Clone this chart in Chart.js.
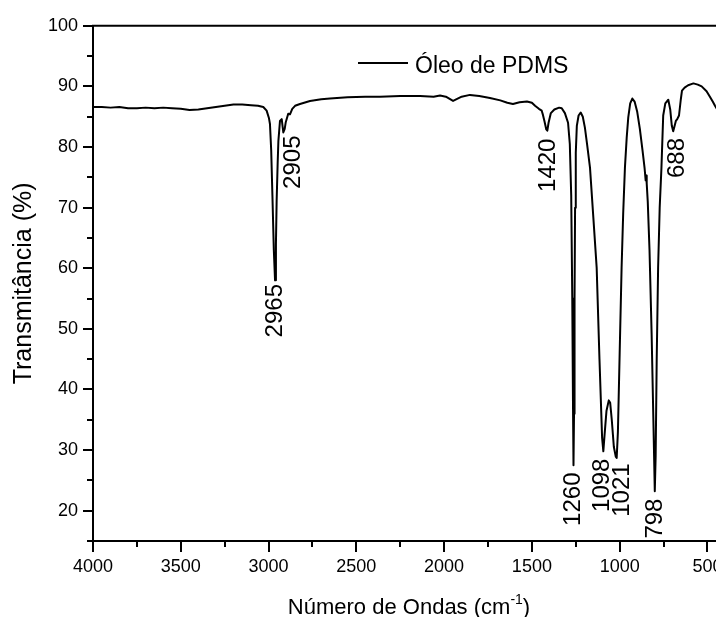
<!DOCTYPE html>
<html>
<head>
<meta charset="utf-8">
<script src="https://cdn.jsdelivr.net/npm/chart.js@4.4.0/dist/chart.umd.min.js"></script>
<style>
  html, body { margin: 0; padding: 0; background: #fff; overflow: hidden; }
  #wrap { width: 716px; height: 617px; overflow: hidden; }
</style>
</head>
<body>
<div id="wrap"><canvas id="ftir" width="726" height="617"></canvas></div>
<script>
// FTIR spectrum, PDMS oil (wavenumber in cm-1, transmittance in %)
const wavenumbers = [
  4000, 3950, 3900, 3850, 3800, 3750, 3700, 3650, 3600, 3550, 3500, 3450, 3400, 3350, 3300, 3250,
  3200, 3150, 3100, 3060, 3030, 3011, 2998, 2992, 2985, 2978, 2970, 2963, 2958, 2954, 2948, 2944,
  2935, 2925, 2916, 2908, 2902, 2888, 2878, 2865, 2849, 2821, 2764, 2700, 2650, 2550, 2450, 2365,
  2250, 2137, 2060, 2023, 1990, 1949, 1900, 1853, 1800, 1739, 1680, 1640, 1608, 1570, 1528, 1500,
  1482, 1460, 1444, 1437, 1428, 1418, 1412, 1405, 1392, 1372, 1345, 1330, 1312, 1294, 1284, 1276,
  1270, 1266, 1263, 1260, 1257, 1254, 1250, 1244, 1234, 1222, 1210, 1198, 1185, 1169, 1150, 1131,
  1115, 1100, 1093, 1086, 1075, 1062, 1054, 1045, 1033, 1022, 1017, 1010, 1000, 989, 980, 970,
  960, 951, 940, 928, 915, 900, 885, 870, 858, 852, 849, 846, 840, 830, 818, 808,
  800, 795, 789, 781, 772, 762, 752, 740, 723, 712, 703, 695, 688, 680, 672, 662,
  652, 645, 630, 610, 580, 555, 533, 505, 486, 470, 457, 440, 400
];
const transmittance = [
  86.6, 86.6, 86.5, 86.6, 86.4, 86.4, 86.5, 86.4, 86.5, 86.4, 86.3, 86.1, 86.2, 86.4, 86.6, 86.8,
  87.0, 87.0, 86.9, 86.8, 86.6, 86.0, 84.8, 83.8, 79.5, 72.0, 63.0, 58.0, 64.0, 71.0, 77.5, 81.0,
  84.3, 84.6, 82.4, 83.0, 84.1, 85.5, 85.4, 86.3, 86.8, 87.1, 87.6, 87.9, 88.0, 88.2, 88.3, 88.3,
  88.4, 88.4, 88.3, 88.5, 88.3, 87.6, 88.3, 88.6, 88.4, 88.1, 87.7, 87.3, 87.1, 87.4, 87.5, 87.3,
  86.8, 86.3, 86.0, 85.3, 84.2, 82.9, 82.7, 84.0, 85.6, 86.2, 86.5, 86.4, 85.6, 84.0, 80.5, 72.0,
  55.0, 38.0, 27.5, 36.0, 55.0, 70.0, 79.0, 83.5, 85.2, 85.7, 85.0, 83.2, 80.3, 76.6, 68.4, 60.1,
  45.0, 32.0, 29.8, 32.5, 36.5, 38.2, 37.8, 35.0, 30.5, 28.9, 28.7, 33.0, 46.0, 60.1, 69.0, 76.6,
  81.5, 84.9, 87.2, 88.0, 87.5, 85.8, 83.0, 79.5, 76.5, 74.5, 75.3, 74.0, 71.0, 63.0, 49.2, 35.0,
  23.2, 29.0, 45.0, 60.1, 70.0, 76.6, 85.2, 87.2, 87.8, 86.2, 83.5, 82.6, 83.4, 84.3, 84.6, 85.2,
  87.8, 89.3, 89.8, 90.2, 90.5, 90.3, 90.0, 89.2, 88.3, 87.5, 86.8, 86.0, 84.5
];
const xTicks = [4000, 3500, 3000, 2500, 2000, 1500, 1000, 500];
const yTicks = [20, 30, 40, 50, 60, 70, 80, 90, 100];

// peak annotations: text, wavenumber where the label sits, transmittance at its top end
const peakNames = ['2965', '2905', '1420', '1260', '1098', '1021', '798', '688'];
const peakLabelX = [2963, 2861, 1408, 1266, 1101, 987, 799, 674];
const peakLabelTop = [57.4, 81.9, 81.4, 26.3, 28.6, 27.8, 22.0, 81.5];

const FONT = "'Liberation Sans', Arial, sans-serif";

const decor = {
  id: 'decor',
  afterDraw(chart) {
    const { ctx, chartArea: a, scales: { x, y } } = chart;
    ctx.save();
    ctx.strokeStyle = '#000';
    ctx.fillStyle = '#000';
    ctx.lineWidth = 2;

    // top frame line
    ctx.beginPath();
    ctx.moveTo(a.left - 1, a.top);
    ctx.lineTo(a.right, a.top);
    ctx.stroke();

    // outward tick marks, major and minor
    ctx.beginPath();
    for (let v = 500; v <= 4000; v += 250) {
      const px = Math.round(x.getPixelForValue(v));
      const len = v % 500 === 0 ? 11 : 6;
      ctx.moveTo(px, a.bottom);
      ctx.lineTo(px, a.bottom + len);
    }
    for (let v = 15; v <= 100; v += 5) {
      const py = Math.round(y.getPixelForValue(v));
      const len = v % 10 === 0 ? 10 : 6;
      ctx.moveTo(a.left - len, py);
      ctx.lineTo(a.left, py);
    }
    ctx.stroke();

    // legend
    ctx.beginPath();
    ctx.moveTo(358, 63);
    ctx.lineTo(408, 63);
    ctx.stroke();
    ctx.font = '23px ' + FONT;
    ctx.textAlign = 'left';
    ctx.textBaseline = 'alphabetic';
    ctx.fillText(chart.data.datasets[0].label, 415, 73);

    // peak labels, rotated
    ctx.font = '24px ' + FONT;
    peakNames.forEach((name, i) => {
      ctx.save();
      ctx.translate(x.getPixelForValue(peakLabelX[i]), y.getPixelForValue(peakLabelTop[i]));
      ctx.rotate(-Math.PI / 2);
      ctx.textAlign = 'right';
      ctx.textBaseline = 'middle';
      ctx.fillText(name, 0, 0);
      ctx.restore();
    });

    // x axis title with superscript
    const main = 'Número de Ondas (cm';
    const sup = '-1';
    const tail = ')';
    ctx.textAlign = 'left';
    ctx.textBaseline = 'alphabetic';
    ctx.font = '22px ' + FONT;
    const wMain = ctx.measureText(main).width;
    const wTail = ctx.measureText(tail).width;
    ctx.font = '14px ' + FONT;
    const wSup = ctx.measureText(sup).width;
    let tx = (a.left + a.right) / 2 - (wMain + wSup + wTail) / 2;
    const base = 614;
    ctx.font = '22px ' + FONT;
    ctx.fillText(main, tx, base);
    tx += wMain;
    ctx.font = '14px ' + FONT;
    ctx.fillText(sup, tx, base - 10);
    tx += wSup;
    ctx.font = '22px ' + FONT;
    ctx.fillText(tail, tx, base);
    ctx.restore();
  }
};

new Chart(document.getElementById('ftir'), {
  type: 'line',
  data: {
    labels: wavenumbers,
    datasets: [{
      label: 'Óleo de PDMS',
      data: wavenumbers.map((w, i) => ({ x: w, y: transmittance[i] })),
      borderColor: '#000',
      borderWidth: 2,
      borderJoinStyle: 'round',
      pointRadius: 0,
      tension: 0,
      fill: false
    }]
  },
  options: {
    responsive: false,
    animation: false,
    layout: { padding: { top: 25, right: 1, left: 0, bottom: 0 } },
    plugins: { legend: { display: false }, tooltip: { enabled: false } },
    scales: {
      x: {
        type: 'linear',
        reverse: true,
        min: 400,
        max: 4000,
        afterBuildTicks: s => { s.ticks = xTicks.map(v => ({ value: v })); },
        afterFit: s => { s.height = 76; s.paddingLeft = 0; s.paddingRight = 0; },
        grid: { display: false, drawTicks: false },
        border: { display: true, color: '#000', width: 2 },
        ticks: { color: '#000', padding: 15, maxRotation: 0, callback: v => String(v), font: { size: 18, family: FONT } }
      },
      y: {
        min: 15,
        max: 100,
        afterBuildTicks: s => { s.ticks = yTicks.map(v => ({ value: v })); },
        afterFit: s => { s.width = 93; },
        grid: { display: false, drawTicks: false },
        border: { display: true, color: '#000', width: 2 },
        ticks: { color: '#000', padding: 15, callback: v => String(v), font: { size: 18, family: FONT } },
        title: {
          display: true,
          text: 'Transmitância (%)',
          color: '#000',
          font: { size: 25, family: FONT },
          padding: { top: 9, bottom: 0 }
        }
      }
    }
  },
  plugins: [decor]
});
</script>
</body>
</html>
